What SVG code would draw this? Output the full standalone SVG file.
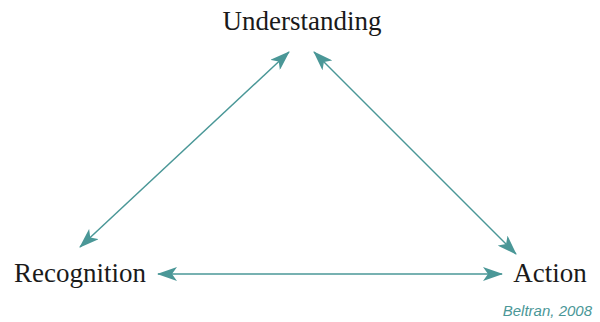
<svg xmlns="http://www.w3.org/2000/svg" width="600" height="322" viewBox="0 0 600 322">
<defs>
<style>
.lbl{font-family:"Liberation Serif","Times New Roman",serif;font-size:27px;fill:#1a1a1a;}
.cite{font-family:"Liberation Sans",Arial,sans-serif;font-style:italic;font-size:15px;fill:#4a9797;}
.conn{stroke:#4a9797;stroke-width:1.5;fill:none;marker-start:url(#ah);marker-end:url(#ah);}
</style>
<marker id="ah" viewBox="0 0 20 14" refX="19" refY="7" markerWidth="20" markerHeight="14" markerUnits="userSpaceOnUse" orient="auto-start-reverse">
<path d="M0,0 L20,7 L0,14 L5,7 z" fill="#4a9797"/>
</marker>
</defs>
<rect width="600" height="322" fill="#ffffff"/>
<g id="connectors">
<line class="conn" x1="80" y1="247" x2="289" y2="52"/>
<line class="conn" x1="314" y1="52" x2="516" y2="254"/>
<line class="conn" x1="158" y1="274" x2="502" y2="274"/>
</g>
<g id="understanding"><text class="lbl" x="302" y="30" text-anchor="middle">Understanding</text></g>
<g id="recognition"><text class="lbl" x="80" y="282" text-anchor="middle">Recognition</text></g>
<g id="action"><text class="lbl" x="550" y="282" text-anchor="middle">Action</text></g>
<g id="citation"><text class="cite" x="592" y="316" text-anchor="end">Beltran, 2008</text></g>
</svg>
